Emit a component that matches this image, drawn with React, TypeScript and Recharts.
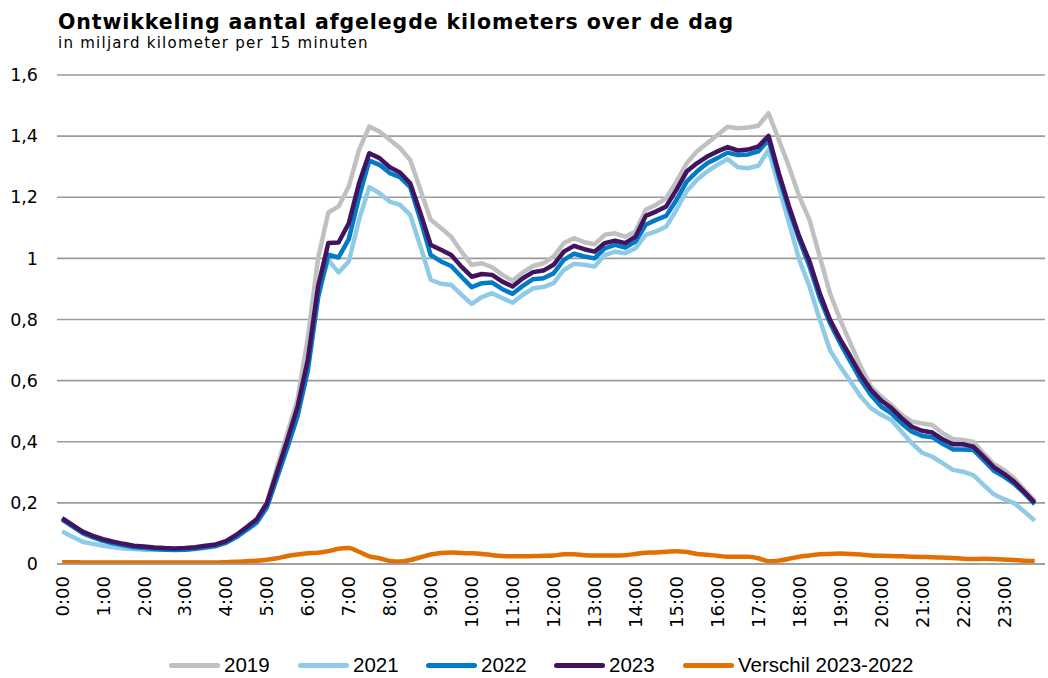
import React from 'react';
import { LineChart, Line, XAxis, YAxis, CartesianGrid } from 'recharts';

const hourLabels = ['0:00','1:00','2:00','3:00','4:00','5:00','6:00','7:00','8:00','9:00','10:00','11:00','12:00','13:00','14:00','15:00','16:00','17:00','18:00','19:00','20:00','21:00','22:00','23:00'];
const yTicks = [0, 0.2, 0.4, 0.6, 0.8, 1, 1.2, 1.4, 1.6];

const s2019 = [0.147,0.125,0.103,0.089,0.078,0.070,0.063,0.057,0.054,0.051,0.049,0.048,0.049,0.052,0.057,0.061,0.072,0.092,0.117,0.144,0.202,0.318,0.428,0.540,0.740,1.000,1.150,1.170,1.235,1.355,1.431,1.415,1.388,1.361,1.322,1.224,1.126,1.099,1.071,1.022,0.979,0.984,0.971,0.946,0.927,0.954,0.975,0.984,1.006,1.050,1.066,1.053,1.046,1.077,1.082,1.071,1.088,1.159,1.175,1.197,1.251,1.311,1.350,1.377,1.404,1.431,1.426,1.428,1.434,1.475,1.388,1.300,1.202,1.126,1.006,0.886,0.799,0.722,0.646,0.580,0.548,0.520,0.488,0.466,0.460,0.455,0.428,0.409,0.406,0.400,0.362,0.327,0.308,0.280,0.242,0.207];
const s2021 = [0.106,0.089,0.073,0.066,0.060,0.055,0.051,0.049,0.047,0.047,0.047,0.047,0.047,0.049,0.052,0.058,0.070,0.088,0.112,0.139,0.194,0.297,0.400,0.505,0.650,0.890,0.995,0.954,0.990,1.126,1.233,1.213,1.186,1.175,1.142,1.039,0.930,0.917,0.913,0.881,0.851,0.873,0.886,0.870,0.855,0.881,0.902,0.906,0.919,0.962,0.982,0.979,0.973,1.011,1.022,1.017,1.033,1.077,1.088,1.104,1.159,1.220,1.257,1.284,1.306,1.325,1.298,1.295,1.303,1.355,1.235,1.115,0.995,0.908,0.799,0.700,0.646,0.597,0.548,0.510,0.488,0.471,0.433,0.395,0.364,0.351,0.330,0.308,0.302,0.291,0.259,0.228,0.212,0.199,0.171,0.142];
const s2022 = [0.145,0.123,0.101,0.087,0.076,0.068,0.061,0.055,0.052,0.049,0.047,0.046,0.047,0.050,0.055,0.059,0.069,0.088,0.111,0.135,0.185,0.283,0.380,0.484,0.633,0.871,1.012,1.003,1.063,1.200,1.320,1.306,1.279,1.266,1.233,1.126,1.011,0.990,0.975,0.940,0.906,0.919,0.921,0.899,0.884,0.910,0.932,0.935,0.951,0.995,1.015,1.006,1.000,1.033,1.044,1.035,1.055,1.110,1.126,1.139,1.191,1.251,1.284,1.311,1.328,1.346,1.338,1.340,1.350,1.388,1.268,1.159,1.061,0.973,0.870,0.788,0.722,0.662,0.602,0.553,0.515,0.493,0.460,0.433,0.419,0.415,0.393,0.375,0.375,0.373,0.340,0.305,0.286,0.262,0.231,0.196];
const s2023 = [0.150,0.128,0.106,0.092,0.081,0.073,0.066,0.060,0.057,0.054,0.052,0.051,0.052,0.055,0.060,0.064,0.075,0.095,0.120,0.146,0.199,0.302,0.406,0.515,0.668,0.908,1.050,1.052,1.115,1.246,1.344,1.328,1.298,1.281,1.246,1.148,1.044,1.028,1.011,0.973,0.940,0.949,0.946,0.924,0.908,0.935,0.955,0.960,0.979,1.022,1.041,1.030,1.022,1.050,1.058,1.050,1.071,1.139,1.153,1.170,1.224,1.284,1.311,1.333,1.350,1.364,1.353,1.356,1.366,1.401,1.279,1.170,1.071,0.990,0.886,0.799,0.735,0.679,0.619,0.570,0.535,0.510,0.477,0.449,0.436,0.430,0.408,0.392,0.392,0.384,0.351,0.317,0.295,0.269,0.235,0.201];
const sDiff = [0.006,0.006,0.005,0.005,0.005,0.005,0.005,0.005,0.005,0.005,0.005,0.005,0.005,0.005,0.005,0.005,0.006,0.007,0.009,0.011,0.014,0.019,0.026,0.031,0.035,0.037,0.042,0.050,0.052,0.040,0.025,0.019,0.010,0.008,0.013,0.022,0.031,0.036,0.038,0.036,0.035,0.033,0.029,0.026,0.025,0.025,0.026,0.027,0.028,0.032,0.032,0.029,0.028,0.028,0.028,0.029,0.033,0.037,0.038,0.040,0.042,0.039,0.033,0.030,0.027,0.024,0.024,0.024,0.019,0.009,0.011,0.017,0.024,0.028,0.032,0.033,0.034,0.033,0.031,0.028,0.027,0.026,0.025,0.024,0.023,0.022,0.021,0.020,0.017,0.016,0.017,0.016,0.015,0.013,0.011,0.010];

const series = [
  { key: 'y2019', name: '2019', color: '#c0c0c0', values: s2019, type: 'linear' },
  { key: 'y2021', name: '2021', color: '#8fcae7', values: s2021, type: 'linear' },
  { key: 'y2022', name: '2022', color: '#007bc7', values: s2022, type: 'linear' },
  { key: 'y2023', name: '2023', color: '#42145f', values: s2023, type: 'linear' },
  { key: 'diff', name: 'Verschil 2023-2022', color: '#e17000', values: sDiff, type: 'monotone' },
];

const legendLeft = [169, 298, 426, 554, 683];

const data = s2019.map((_, i) => {
  const row: any = { idx: i };
  series.forEach((s) => { row[s.key] = s.values[i]; });
  return row;
});

const xTicks = hourLabels.map((_, h) => h * 4);

const fmtY = (v: number) => (Math.round(v * 10) / 10).toString().replace('.', ',');

const XTick = (props: any) => {
  const { x, y, payload } = props;
  const label = hourLabels[Math.round(payload.value / 4)];
  return (
    <g transform={`translate(${x},${y})`}>
      <text transform="rotate(-90)" x={-12} y={0} dy="0.36em" textAnchor="end" fill="#000" fontSize={18} fontFamily="'DejaVu Sans', Verdana, sans-serif">
        {label}
      </text>
    </g>
  );
};

export default function App() {
  return (
    <div style={{ position: 'absolute', left: 0, top: 0, width: 1048, height: 678, background: '#fff', overflow: 'hidden' }}>
      <div style={{ position: 'absolute', left: 58, top: 12, fontFamily: "'DejaVu Sans', Verdana, sans-serif", fontWeight: 'bold', fontSize: 20.5, letterSpacing: 0.9, lineHeight: '21px', color: '#000', whiteSpace: 'nowrap' }}>
        Ontwikkeling aantal afgelegde kilometers over de dag
      </div>
      <div style={{ position: 'absolute', left: 58, top: 36, fontFamily: "'DejaVu Sans', Verdana, sans-serif", fontSize: 15, letterSpacing: 1.25, lineHeight: '15px', color: '#000', whiteSpace: 'nowrap' }}>
        in miljard kilometer per 15 minuten
      </div>
      <LineChart width={1048} height={678} data={data} margin={{ top: 75, right: 3, left: 12, bottom: 0 }}>
        <CartesianGrid vertical={false} stroke="#9b9b9b" strokeWidth={1.6} />
        <XAxis dataKey="idx" type="number" domain={[-0.5, 96]} ticks={xTicks} interval={0} tick={<XTick />} tickLine={false} tickSize={0} tickMargin={0} axisLine={{ stroke: '#9b9b9b', strokeWidth: 1.6 }} height={114} allowDataOverflow />
        <YAxis type="number" domain={[0, 1.6]} ticks={yTicks} tickFormatter={fmtY} width={45} axisLine={false} tickLine={false} tickSize={0} tickMargin={19} tick={{ fill: '#000', fontSize: 17.5, fontFamily: "'DejaVu Sans', Verdana, sans-serif" }} allowDataOverflow />
        {series.map((s) => (
          <Line key={s.key} dataKey={s.key} name={s.name} type={s.type as any} stroke={s.color} strokeWidth={4.5} dot={false} activeDot={false} strokeLinejoin="round" isAnimationActive={false} />
        ))}
      </LineChart>
      {series.map((s, i) => (
        <div key={s.key} style={{ position: 'absolute', left: legendLeft[i], top: 653, height: 24, display: 'flex', alignItems: 'center', whiteSpace: 'nowrap' }}>
          <div style={{ width: 51, height: 5, borderRadius: 3, background: s.color, marginRight: 4 }} />
          <span style={{ fontFamily: "'Liberation Sans', Arial, sans-serif", fontSize: 20.5, lineHeight: '24px', color: '#000' }}>{s.name}</span>
        </div>
      ))}
    </div>
  );
}
